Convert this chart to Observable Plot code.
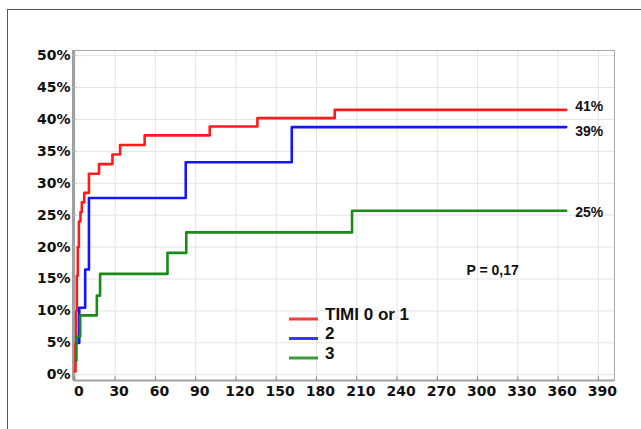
<!DOCTYPE html>
<html><head><meta charset="utf-8">
<script src="https://cdn.jsdelivr.net/npm/d3@7"></script>
<script src="https://cdn.jsdelivr.net/npm/@observablehq/plot@0.6"></script>
<style>
body{margin:0;background:#fff;}
#wrap{position:relative;width:641px;height:429px;overflow:hidden;background:#fff;}
#chart{position:absolute;left:0;top:0;}
#border{position:absolute;left:7px;top:9px;width:700px;height:500px;border:1.5px solid #555;box-sizing:border-box;pointer-events:none;}
</style></head><body>
<div id="wrap"><div id="chart"></div><div id="border"></div></div>
<script>
// ---- data ----
const seriesNames = ["TIMI 0 or 1", "2", "3"];
const seriesColors = ["#ff1a1a", "#1414ff", "#1a8a1a"];

const redDays = [0, 0.5, 1, 1.5, 2.2, 3, 4.2, 5.2, 7, 10.5, 18, 28, 33.7, 52, 100.5, 136, 193.6, 366];
const redPct  = [0.5, 5, 10, 15.5, 20, 24, 25.5, 27, 28.5, 31.5, 33, 34.5, 36, 37.5, 38.9, 40.2, 41.5, 41.5];

const blueDays = [2.5, 3.3, 7.7, 10.5, 82.6, 161.6, 366];
const bluePct  = [5, 10.5, 16.5, 27.7, 33.3, 38.8, 38.8];

const greenDays = [0.7, 1.2, 4, 16.4, 18.8, 69, 83, 206.5, 366];
const greenPct  = [2.2, 6, 9.3, 12.4, 15.8, 19.1, 22.3, 25.7, 25.7];

const endLabels = ["41%", "39%", "25%"];
const pText = "P = 0,17";

const xTicks = [0, 30, 60, 90, 120, 150, 180, 210, 240, 270, 300, 330, 360, 390];
const yTicks = [0, 5, 10, 15, 20, 25, 30, 35, 40, 45, 50];
const xDomain = [-1, 402];
const yDomain = [-0.9, 50.8];

// ---- build table ----
const seriesDays = [redDays, blueDays, greenDays];
const seriesPct = [redPct, bluePct, greenPct];
const rows = [];
seriesNames.forEach((s, i) => {
  seriesDays[i].forEach((d, j) => rows.push({series: s, day: d, pct: seriesPct[i][j]}));
});
const lastPoints = seriesNames.map((s, i) => ({
  series: s,
  day: seriesDays[i][seriesDays[i].length - 1],
  pct: seriesPct[i][seriesPct[i].length - 1],
  label: endLabels[i]
}));
const endDy = [-3, 4, 2];

const tickFont = {fontFamily: "DejaVu Sans", fontWeight: "bold", fontSize: 14, fill: "#111"};

const chart = Plot.plot({
  width: 641,
  height: 429,
  marginLeft: 73,
  marginRight: 27,
  marginTop: 50,
  marginBottom: 49,
  style: {background: "transparent", color: "#111", overflow: "visible"},
  x: {domain: xDomain, label: null},
  y: {domain: yDomain, label: null},
  color: {domain: seriesNames, range: seriesColors},
  marks: [
    Plot.gridX(xTicks, {stroke: "#e4e4e4", strokeOpacity: 1, strokeWidth: 1}),
    Plot.gridY(yTicks, {stroke: "#e4e4e4", strokeOpacity: 1, strokeWidth: 1}),
    Plot.frame({stroke: "#a8a8a8", strokeWidth: 1}),
    Plot.ruleX([xDomain[0]], {stroke: "#a0a0a0", strokeWidth: 3}),
    Plot.ruleY([yDomain[0]], {stroke: "#a0a0a0", strokeWidth: 2}),
    Plot.ruleX(xTicks, {y1: yDomain[0], y2: yDomain[0] + 0.6, stroke: "#888"}),
    Plot.ruleY(yTicks, {x1: xDomain[0], x2: xDomain[0] + 2.5, stroke: "#bbb"}),
    Plot.axisX({ticks: xTicks, tickSize: 0, tickPadding: 6, dx: 4, label: null, ...tickFont}),
    Plot.axisY({ticks: yTicks, tickSize: 0, tickPadding: 3, label: null, tickFormat: d => d + "%", ...tickFont}),
    Plot.line(rows, {x: "day", y: "pct", z: "series", stroke: "series", curve: "step-after", strokeWidth: 2.6}),
    ...lastPoints.map((p, i) => Plot.text([p], {
      x: "day", y: "pct", text: "label", textAnchor: "start", dx: 9, dy: endDy[i],
      fontFamily: "Liberation Sans", fontWeight: "bold", fontSize: 14, fill: "#111"
    })),
    Plot.text([pText], {frameAnchor: "top-left", dx: 393, dy: 215, textAnchor: "start",
      fontFamily: "Liberation Sans", fontWeight: "bold", fontSize: 14, fill: "#111"})
  ]
});

// legend inside the plot area
const svg = d3.select(chart);
const legend = svg.append("g").attr("transform", "translate(289,319)");
seriesNames.forEach((s, i) => {
  const g = legend.append("g").attr("transform", `translate(0,${i * 19.5})`);
  g.append("line").attr("x1", 0).attr("x2", 29).attr("y1", 0).attr("y2", 0)
    .attr("stroke", seriesColors[i]).attr("stroke-width", 3).attr("stroke-opacity", 0.85);
  g.append("text").attr("x", 36).attr("y", 0).attr("dy", "0.05em")
    .attr("text-anchor", "start")
    .attr("font-family", "Liberation Sans").attr("font-weight", "bold").attr("font-size", 17)
    .attr("fill", "#111").text(s);
});

document.getElementById("chart").appendChild(chart);
</script>
</body></html>
